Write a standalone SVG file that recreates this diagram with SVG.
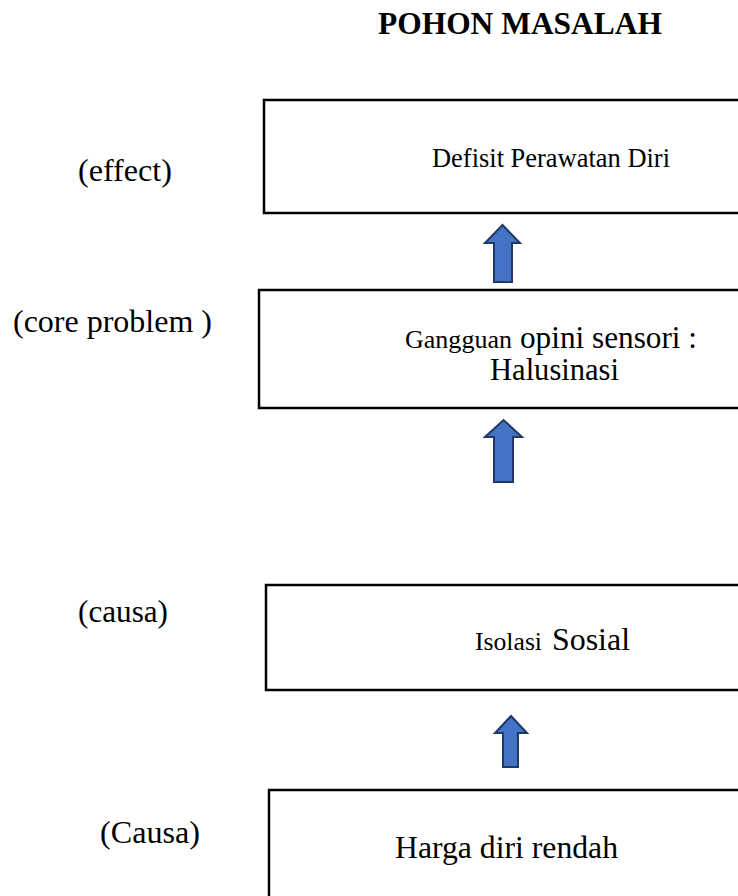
<svg xmlns="http://www.w3.org/2000/svg" width="738" height="896" viewBox="0 0 738 896">
<style>
  text { font-family: "Liberation Serif", "Times New Roman", serif; fill: #000; }
  .title { font-size: 31px; font-weight: bold; }
  .lbl { font-size: 31px; }
  .box { fill: #fff; stroke: #000; stroke-width: 2.5; }
  .arrow { fill: #4472C4; stroke: #1F3864; stroke-width: 2; stroke-linejoin: miter; }
</style>
<rect x="0" y="0" width="738" height="896" fill="#fff"/>
<text class="title" x="378" y="34" textLength="284" lengthAdjust="spacingAndGlyphs">POHON MASALAH</text>

<g id="label-effect"><text class="lbl" x="78" y="181" textLength="94" lengthAdjust="spacingAndGlyphs">(effect)</text></g>
<g id="label-core"><text class="lbl" x="13" y="332" textLength="199" lengthAdjust="spacingAndGlyphs">(core problem )</text></g>
<g id="label-causa"><text class="lbl" x="78" y="622" textLength="90" lengthAdjust="spacingAndGlyphs">(causa)</text></g>
<g id="label-Causa"><text class="lbl" x="100" y="843" textLength="100" lengthAdjust="spacingAndGlyphs">(Causa)</text></g>

<g id="node-defisit">
  <rect class="box" x="264" y="100" width="490" height="113"/>
  <text x="432" y="167" font-size="27" textLength="238" lengthAdjust="spacingAndGlyphs">Defisit Perawatan Diri</text>
</g>
<g id="node-halusinasi">
  <rect class="box" x="259" y="290" width="495" height="118"/>
  <text x="405" y="348"><tspan font-size="25" textLength="107" lengthAdjust="spacingAndGlyphs">Gangguan</tspan><tspan x="520" font-size="31" textLength="177" lengthAdjust="spacingAndGlyphs">opini sensori :</tspan></text>
  <text x="490" y="380" font-size="31" textLength="129" lengthAdjust="spacingAndGlyphs">Halusinasi</text>
</g>
<g id="node-isolasi">
  <rect class="box" x="266" y="585" width="488" height="105"/>
  <text x="475" y="650"><tspan font-size="26" textLength="67" lengthAdjust="spacingAndGlyphs">Isolasi</tspan><tspan x="552" font-size="32" textLength="78" lengthAdjust="spacingAndGlyphs">Sosial</tspan></text>
</g>
<g id="node-harga">
  <rect class="box" x="269" y="790" width="485" height="120"/>
  <text x="395" y="858" font-size="32" textLength="223" lengthAdjust="spacingAndGlyphs">Harga diri rendah</text>
</g>

<g id="connectors">
  <path class="arrow" d="M494,282 L494,243 L485,243 L502.5,225 L520,243 L512,243 L512,282 Z"/>
  <path class="arrow" d="M494,482 L494,437 L485,437 L503.5,420 L522,437 L513,437 L513,482 Z"/>
  <path class="arrow" d="M503,767 L503,733 L495,733 L511,716 L527,733 L518,733 L518,767 Z"/>
</g>
</svg>
